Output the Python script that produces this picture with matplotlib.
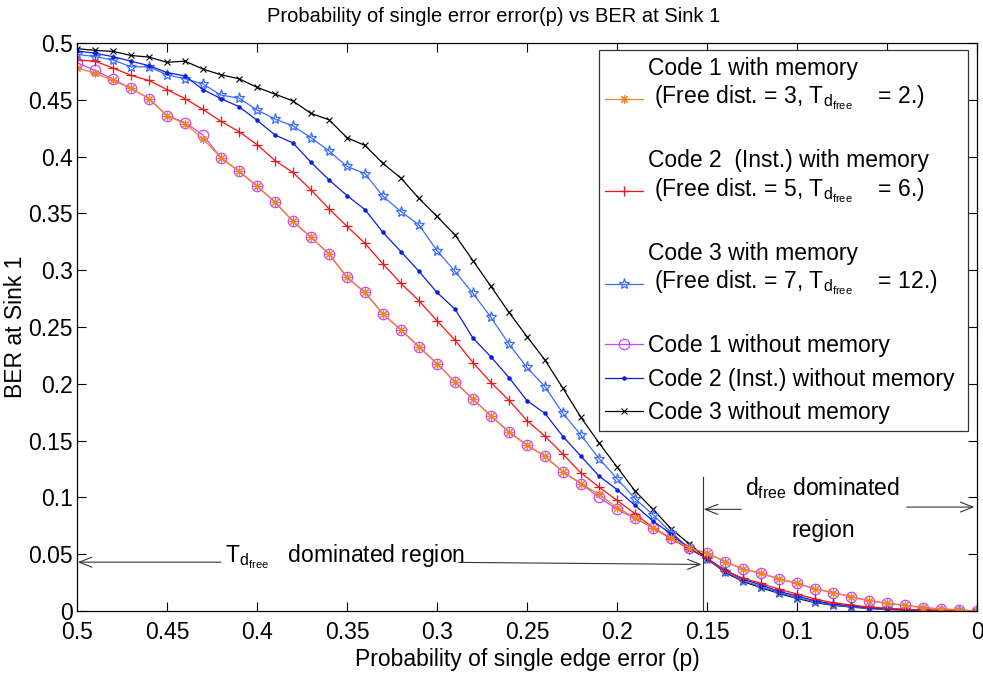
import numpy as np
import matplotlib
matplotlib.use("Agg")
import matplotlib.pyplot as plt
from matplotlib.ticker import FormatStrFormatter

plt.rcParams['font.family'] = ['Liberation Sans', 'DejaVu Sans']
plt.rcParams['mathtext.fontset'] = 'custom'
plt.rcParams['mathtext.rm'] = 'Liberation Sans'
plt.rcParams['mathtext.it'] = 'Liberation Sans:italic'

# probability of single edge error (x axis, shown reversed)
p = [0.50, 0.49, 0.48, 0.47, 0.46, 0.45, 0.44, 0.43, 0.42, 0.41,
     0.40, 0.39, 0.38, 0.37, 0.36, 0.35, 0.34, 0.33, 0.32, 0.31,
     0.30, 0.29, 0.28, 0.27, 0.26, 0.25, 0.24, 0.23, 0.22, 0.21,
     0.20, 0.19, 0.18, 0.17, 0.16, 0.15, 0.14, 0.13, 0.12, 0.11,
     0.10, 0.09, 0.08, 0.07, 0.06, 0.05, 0.04, 0.03, 0.02, 0.01, 0.00]

code1_mem = [0.478, 0.4735, 0.467, 0.460, 0.451, 0.436, 0.429, 0.4156, 0.399, 0.387,
             0.374, 0.360, 0.343, 0.329, 0.3143, 0.2937, 0.2804, 0.2614, 0.2475, 0.2325,
             0.2178, 0.2017, 0.1864, 0.1717, 0.1576, 0.146, 0.1362, 0.1224, 0.1121, 0.1027,
             0.091, 0.0822, 0.0733, 0.0642, 0.0557, 0.0509, 0.0435, 0.037, 0.0332, 0.0282,
             0.0244, 0.0194, 0.0162, 0.0126, 0.0091, 0.0068, 0.005, 0.003, 0.0018, 0.0009, 0.0]

code2_mem = [0.485, 0.484, 0.478, 0.4715, 0.467, 0.459, 0.451, 0.4415, 0.431, 0.422,
             0.4106, 0.3965, 0.386, 0.3707, 0.354, 0.3386, 0.3236, 0.3055, 0.2884, 0.2731,
             0.2555, 0.2384, 0.2187, 0.2011, 0.1855, 0.1676, 0.1539, 0.138, 0.1215, 0.1092,
             0.0974, 0.0857, 0.0733, 0.0637, 0.0548, 0.0464, 0.0356, 0.0288, 0.0244, 0.0191,
             0.015, 0.0106, 0.0073, 0.0053, 0.0035, 0.0024, 0.0015, 0.0009, 0.0006, 0.0003, 0.0]

code3_mem = [0.490, 0.488, 0.485, 0.479, 0.479, 0.472, 0.4685, 0.464, 0.454, 0.4515,
             0.441, 0.433, 0.427, 0.4166, 0.405, 0.3913, 0.385, 0.365, 0.3516, 0.3398,
             0.3172, 0.299, 0.2796, 0.2584, 0.2349, 0.2144, 0.1974, 0.1739, 0.1548, 0.1342,
             0.1166, 0.0989, 0.0848, 0.069, 0.0557, 0.046, 0.0347, 0.0267, 0.0215, 0.0162,
             0.0118, 0.0082, 0.0053, 0.0038, 0.0024, 0.0015, 0.0009, 0.0006, 0.0003, 0.0002, 0.0]

code1_nomem = [0.4826, 0.476, 0.468, 0.460, 0.451, 0.436, 0.430, 0.419, 0.399, 0.387,
               0.374, 0.360, 0.343, 0.329, 0.3143, 0.2937, 0.2804, 0.2614, 0.2475, 0.2325,
               0.2178, 0.2017, 0.1864, 0.1717, 0.1576, 0.146, 0.1362, 0.1224, 0.1121, 0.100,
               0.0895, 0.0815, 0.0733, 0.0642, 0.0557, 0.051, 0.0435, 0.037, 0.0332, 0.0282,
               0.0244, 0.0194, 0.0162, 0.0126, 0.0091, 0.0068, 0.005, 0.003, 0.0018, 0.0009, 0.0]

code2_nomem = [0.493, 0.491, 0.488, 0.484, 0.480, 0.474, 0.471, 0.459, 0.451, 0.444,
               0.432, 0.419, 0.412, 0.395, 0.3795, 0.3657, 0.3533, 0.3333, 0.3163, 0.299,
               0.2804, 0.2658, 0.2402, 0.2237, 0.2055, 0.1852, 0.1739, 0.1536, 0.1362, 0.1189,
               0.1069, 0.093, 0.0792, 0.068, 0.0548, 0.0464, 0.036, 0.028, 0.023, 0.0172,
               0.0133, 0.0091, 0.0062, 0.0044, 0.0029, 0.002, 0.0012, 0.0008, 0.0004, 0.0002, 0.0]

code3_nomem = [0.495, 0.4935, 0.4926, 0.489, 0.4876, 0.483, 0.484, 0.477, 0.472, 0.4685,
               0.461, 0.455, 0.449, 0.438, 0.4324, 0.4166, 0.4098, 0.394, 0.381, 0.3632,
               0.3474, 0.331, 0.3084, 0.2857, 0.2628, 0.2416, 0.2209, 0.196, 0.1704, 0.148,
               0.1268, 0.1057, 0.0895, 0.0725, 0.0592, 0.046, 0.034, 0.026, 0.0205, 0.0155,
               0.011, 0.0075, 0.005, 0.0035, 0.0022, 0.0014, 0.0008, 0.0005, 0.0003, 0.0001, 0.0]

# trailing newline keeps the handle on the second line, as in the original
labels = ['Code 1 with memory\n (Free dist. = 3, $\\mathrm{T_{d_{free}}}$    = 2.)\n',
          'Code 2  (Inst.) with memory\n (Free dist. = 5, $\\mathrm{T_{d_{free}}}$    = 6.)\n',
          'Code 3 with memory\n (Free dist. = 7, $\\mathrm{T_{d_{free}}}$    = 12.)\n',
          'Code 1 without memory',
          'Code 2 (Inst.) without memory ',
          'Code 3 without memory']

FS = 16.5

fig = plt.figure(figsize=(9.83, 6.78), dpi=100)
ax = fig.add_axes([0.0783, 0.0988, 0.9156, 0.8378])

h4, = ax.plot(p, code1_nomem, color='#cc44ff', marker='o', ms=7.5, mfc='none', mew=0.9, lw=0.9)
h6, = ax.plot(p, code3_nomem, color='black', marker='x', ms=4.5, mew=0.8, lw=0.9)
h3, = ax.plot(p, code3_mem, color='#3d6bff', marker='*', ms=8, mfc='none', mew=0.9, lw=0.9)
h5, = ax.plot(p, code2_nomem, color='#0a1ee6', marker='.', ms=4.5, lw=0.9)
h2, = ax.plot(p, code2_mem, color='#ff1010', marker='+', ms=7.5, mew=0.9, lw=0.9)
h1, = ax.plot(p, code1_mem, color='#f5821f', marker=(8, 2, 0), ms=6, mew=0.8, lw=0.9)

ax.set_xlim(0.5, 0.0)
ax.set_ylim(0, 0.5)
ax.set_xticks(np.arange(0, 0.501, 0.05))
ax.set_yticks(np.arange(0, 0.501, 0.05))
ax.xaxis.set_major_formatter(FormatStrFormatter('%g'))
ax.yaxis.set_major_formatter(FormatStrFormatter('%g'))
ax.tick_params(direction='in', length=6.5, width=0.8, top=True, right=True,
               labelsize=FS)
ax.tick_params(axis='x', pad=7)
ax.tick_params(axis='y', pad=3)
for s in ax.spines.values():
    s.set_linewidth(0.9)

ax.set_xlabel('Probability of single edge error (p)', fontsize=FS, labelpad=3)
ax.set_ylabel('BER at Sink 1', fontsize=FS, labelpad=1)
ax.set_title('Probability of single error error(p) vs BER at Sink 1', fontsize=14.5,
             x=0.463, pad=15)

leg = ax.legend([h1, h2, h3, h4, h5, h6], labels, loc='upper right',
                bbox_to_anchor=(0.99, 0.988), borderaxespad=0, fontsize=FS,
                fancybox=False, edgecolor='#333333', framealpha=1,
                handlelength=1.65, handletextpad=0.22, labelspacing=0.45,
                borderpad=0.3)
leg.get_frame().set_linewidth(0.9)
for t in leg.get_texts():
    t.set_linespacing(1.2)

# region annotations
arr = dict(arrowstyle='->,head_length=0.5,head_width=0.2', color='#333333',
           lw=0.8, mutation_scale=18, shrinkA=0, shrinkB=0)
ax.text(0.418, 0.043, '$\\mathrm{T_{d_{free}}}$   dominated region', fontsize=FS,
        va='baseline', ha='left')
ax.annotate('', xy=(0.4995, 0.043), xytext=(0.42, 0.043), arrowprops=arr)
ax.annotate('', xy=(0.153, 0.041), xytext=(0.288, 0.0428), arrowprops=arr)
ax.plot([0.152, 0.152], [0, 0.118], color='#333333', lw=0.8)
ax.text(0.0856, 0.102, '$\\mathrm{d_{free}}$ dominated', fontsize=FS,
        va='baseline', ha='center')
ax.text(0.0856, 0.065, 'region', fontsize=FS, va='baseline', ha='center')
ax.annotate('', xy=(0.1518, 0.0895), xytext=(0.131, 0.0895), arrowprops=arr)
ax.annotate('', xy=(0.0015, 0.0915), xytext=(0.039, 0.0915), arrowprops=arr)

fig.savefig('out.png', dpi=100)
